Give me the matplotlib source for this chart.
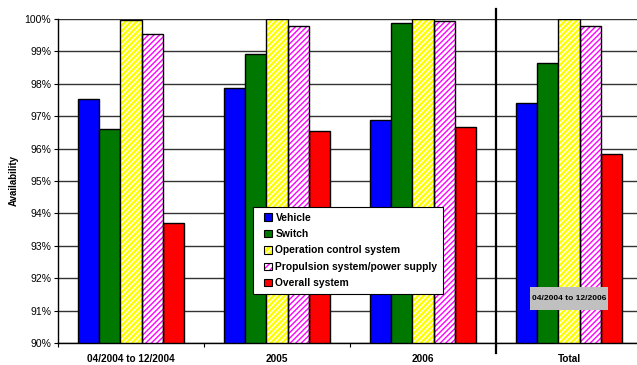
import matplotlib
matplotlib.use("Agg")
import matplotlib.pyplot as plt
import numpy as np
from matplotlib.patches import Patch, Rectangle
from matplotlib.legend_handler import HandlerTuple
from matplotlib.transforms import blended_transform_factory

plt.rcParams['font.family'] = ['Liberation Sans', 'DejaVu Sans']
plt.rcParams['hatch.linewidth'] = 1.0

categories = ["04/2004 to 12/2004", "2005", "2006", "Total"]
series_names = ["Vehicle", "Switch", "Operation control system",
                "Propulsion system/power supply", "Overall system"]
vehicle = [97.53, 97.86, 96.87, 97.41]
switch = [96.60, 98.91, 99.88, 98.64]
operation_control = [99.97, 100.0, 100.0, 99.99]
propulsion = [99.55, 99.77, 99.93, 99.77]
overall = [93.69, 96.53, 96.66, 95.82]
series = [vehicle, switch, operation_control, propulsion, overall]

# (face, hatch colour, hatch pattern)
styles = [
    ("#0000FF", None, None),
    ("#007800", None, None),
    ("#FFFF00", "white", "//////"),
    ("white", "#FF00FF", "//////"),
    ("#FF0000", None, None),
]

fig = plt.figure(figsize=(6.37, 3.65), dpi=100)
W, H = 637, 365
ax = fig.add_axes([58 / W, 1 - 343 / H, 584 / W, 324 / H])

x = np.arange(len(categories))
bw = 0.144
offsets = (np.arange(5) - 2) * bw
base = 90.0

handles = []
for vals, off, (face, hcol, hatch) in zip(series, offsets, styles):
    heights = np.array(vals) - base
    if hatch:
        ax.bar(x + off, heights, bw, bottom=base, facecolor=face,
               edgecolor=hcol, hatch=hatch, linewidth=0, zorder=3)
        ax.bar(x + off, heights, bw, bottom=base, fill=False,
               edgecolor="black", linewidth=1.0, zorder=4)
        handles.append((Patch(facecolor=face, edgecolor=hcol, hatch="/////", linewidth=0),
                        Patch(fill=False, edgecolor="black", linewidth=0.8)))
    else:
        ax.bar(x + off, heights, bw, bottom=base, facecolor=face,
               edgecolor="black", linewidth=1.0, zorder=3)
        handles.append(Patch(facecolor=face, edgecolor="black", linewidth=0.8))

ax.set_ylim(90, 100)
ax.set_xlim(-0.5, 3.5)
ax.set_yticks(np.arange(90, 101, 1))
ax.set_yticklabels([f"{v}%" for v in range(90, 101)], fontsize=7.5)
ax.yaxis.grid(True, color="#333333", linewidth=1.0, zorder=0)
ax.set_axisbelow(True)

ax.set_xticks(np.arange(-0.5, 3.6, 1.0))
ax.set_xticklabels([])
ax.set_xticks(x, minor=True)
ax.set_xticklabels(categories, minor=True, fontsize=7.2, fontweight="bold")
ax.tick_params(axis="x", which="major", length=3, direction="out")
ax.tick_params(axis="x", which="minor", length=0, pad=8)
ax.tick_params(axis="y", length=3, pad=2)

for s in ["top", "right"]:
    ax.spines[s].set_visible(False)
ax.spines["left"].set_linewidth(1.0)
ax.spines["bottom"].set_linewidth(1.0)

ax.set_ylabel("Availability", fontsize=7, fontweight="bold", labelpad=4)

# divider between the yearly groups and the total
trans = blended_transform_factory(ax.transData, ax.transAxes)
ax.plot([2.5, 2.5], [-0.031, 1.031], color="black", linewidth=1.6,
        transform=trans, clip_on=False, zorder=5)

# period label inside the total group
ax.add_patch(Rectangle((3 - 0.27, 91.37 - 0.355), 0.54, 0.71,
                       facecolor="#C0C0C0", edgecolor="none", zorder=6))
ax.text(3, 91.37, "04/2004 to 12/2006", ha="center", va="center",
        fontsize=6, fontweight="bold", zorder=7)

# legend box with a frame drawn separately
ax.add_patch(Rectangle((0.334, 0.151), 0.325, 0.269, transform=ax.transAxes,
                       facecolor="white", edgecolor="black", linewidth=0.8,
                       zorder=7))
leg = ax.legend(handles, series_names, loc="center left",
                bbox_to_anchor=(0.346, 0.2855), borderaxespad=0,
                prop={"weight": "bold", "size": 7.4},
                handler_map={tuple: HandlerTuple(ndivide=1)},
                handlelength=0.75, handleheight=0.75, handletextpad=0.35,
                labelspacing=0.62, frameon=False, borderpad=0.4)
leg.set_zorder(8)

fig.savefig("out.png", dpi=100)
